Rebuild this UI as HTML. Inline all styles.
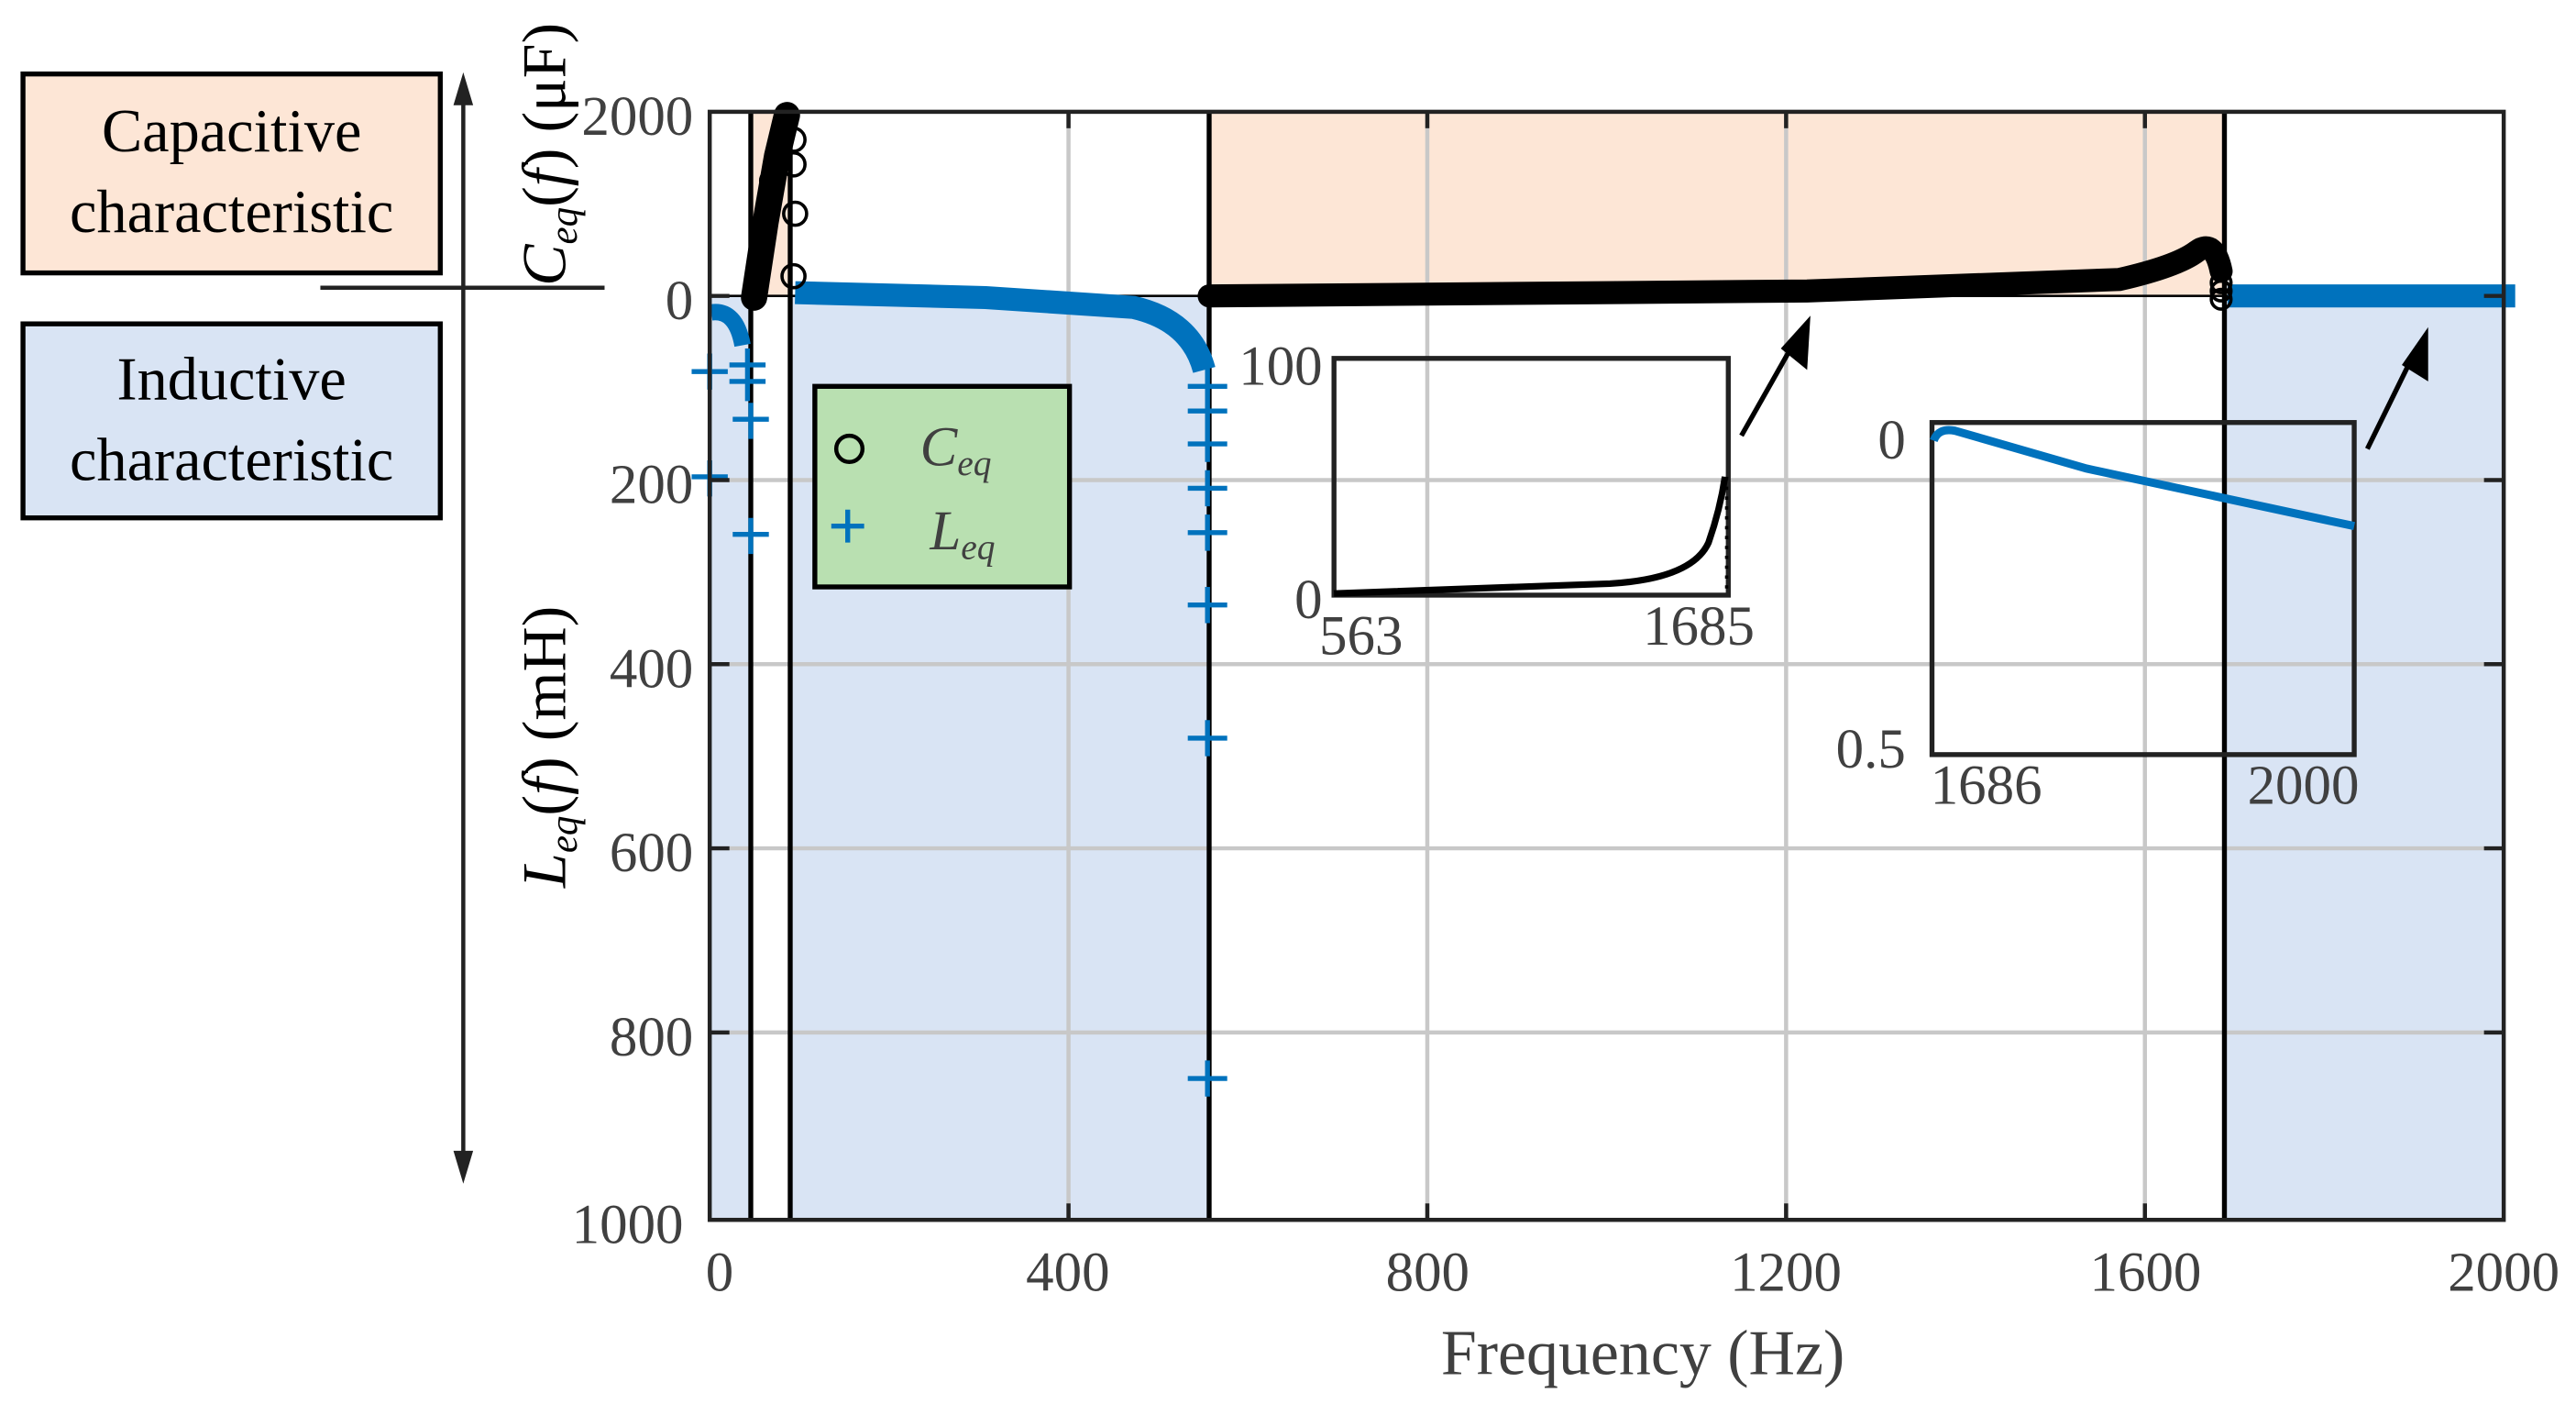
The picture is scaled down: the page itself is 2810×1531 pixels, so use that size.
<!DOCTYPE html>
<html><head><meta charset="utf-8"><style>
html,body{margin:0;padding:0;background:#fff;width:2810px;height:1531px;overflow:hidden}
svg{display:block}
text{font-family:"Liberation Serif",serif}
.t{fill:#404040;font-size:34px}
</style></head><body>
<svg width="2810" height="1531" viewBox="0 0 1568 854" preserveAspectRatio="none">
<!-- shaded regions -->
<rect x="457" y="68" width="24" height="112" fill="#fde6d6"/>
<rect x="736" y="68" width="618" height="112" fill="#fde6d6"/>
<rect x="432" y="180" width="25" height="562" fill="#d9e4f4"/>
<rect x="481" y="180" width="255" height="562" fill="#d9e4f4"/>
<rect x="1354" y="180" width="170" height="562" fill="#d9e4f4"/>
<!-- grid -->
<g stroke="#c8c8c8" stroke-width="2.5">
<line x1="650.4" y1="68" x2="650.4" y2="742"/><line x1="868.8" y1="68" x2="868.8" y2="742"/>
<line x1="1087.2" y1="68" x2="1087.2" y2="742"/><line x1="1305.6" y1="68" x2="1305.6" y2="742"/>
<line x1="432" y1="292" x2="1524" y2="292"/><line x1="432" y1="404" x2="1524" y2="404"/>
<line x1="432" y1="516" x2="1524" y2="516"/><line x1="432" y1="628" x2="1524" y2="628"/>
</g>
<!-- region separators -->
<g stroke="#000" stroke-width="3">
<line x1="457" y1="68" x2="457" y2="742"/><line x1="481" y1="68" x2="481" y2="742"/>
<line x1="736" y1="68" x2="736" y2="742"/><line x1="1354" y1="68" x2="1354" y2="742"/>
<line x1="432" y1="180" x2="1524" y2="180" stroke-width="1.5"/>
</g>
<!-- blue curves -->
<path d="M433,190 Q448,188 452,210" stroke="#0072bd" stroke-width="10" fill="none"/>
<path d="M484,178 L600,181 L690,187 Q725,195 733,225" stroke="#0072bd" stroke-width="14" fill="none"/>
<line x1="1356" y1="180" x2="1531" y2="180" stroke="#0072bd" stroke-width="14"/>
<g stroke="#0072bd" stroke-width="3" fill="none">
<path d="M421,226h22M432,215v22 M421,290h22M432,280v22 M444,222h22M455,212v22 M444,232h22M455,222v22 M446,255h22M457,245v22 M446,325h22M457,315v22 M723,235h24M735,224v22 M723,250h24M735,240v22 M723,270h24M735,259v22 M723,297h24M735,286v22 M723,324h24M735,313v22 M723,368h24M735,357v22 M723,449h24M735,438v22 M723,656h24M735,645v22"/>
</g>
<!-- black curves -->
<path d="M459,181 L466,135 L473,95 L479,70" stroke="#000" stroke-width="16" fill="none" stroke-linecap="round"/>
<g stroke="#000" stroke-width="2" fill="none"><circle cx="483" cy="168" r="7"/><circle cx="484" cy="130" r="7"/><circle cx="483" cy="100" r="7"/><circle cx="483" cy="85" r="7"/><circle cx="470" cy="110" r="7"/><circle cx="474" cy="95" r="7"/></g>
<path d="M736,180 L1100,177 L1290,170 Q1325,162 1337,153 Q1348,145 1352,165" stroke="#000" stroke-width="14" fill="none" stroke-linecap="round"/>
<g stroke="#000" stroke-width="2" fill="none"><circle cx="1352" cy="172" r="6"/><circle cx="1352" cy="177" r="6"/><circle cx="1352" cy="182" r="6"/></g>
<!-- axes box -->
<rect x="432" y="68" width="1092" height="674" fill="none" stroke="#222" stroke-width="2.5"/>
<g stroke="#222" stroke-width="2.5">
<line x1="432" y1="180" x2="444" y2="180"/><line x1="432" y1="292" x2="444" y2="292"/><line x1="432" y1="404" x2="444" y2="404"/><line x1="432" y1="516" x2="444" y2="516"/><line x1="432" y1="628" x2="444" y2="628"/>
<line x1="1512" y1="180" x2="1524" y2="180"/><line x1="1512" y1="292" x2="1524" y2="292"/><line x1="1512" y1="404" x2="1524" y2="404"/><line x1="1512" y1="516" x2="1524" y2="516"/><line x1="1512" y1="628" x2="1524" y2="628"/>
<line x1="650.4" y1="68" x2="650.4" y2="78"/><line x1="868.8" y1="68" x2="868.8" y2="78"/><line x1="1087.2" y1="68" x2="1087.2" y2="78"/><line x1="1305.6" y1="68" x2="1305.6" y2="78"/>
<line x1="650.4" y1="742" x2="650.4" y2="732"/><line x1="868.8" y1="742" x2="868.8" y2="732"/><line x1="1087.2" y1="742" x2="1087.2" y2="732"/><line x1="1305.6" y1="742" x2="1305.6" y2="732"/>
</g>
<!-- tick labels -->
<g class="t" text-anchor="end">
<text x="422" y="82">2000</text><text x="422" y="194">0</text><text x="422" y="306">200</text><text x="422" y="418">400</text><text x="422" y="530">600</text><text x="422" y="642">800</text><text x="416" y="756">1000</text>
</g>
<g class="t" text-anchor="middle">
<text x="438" y="785">0</text><text x="650" y="785">400</text><text x="869" y="785">800</text><text x="1087" y="785">1200</text><text x="1306" y="785">1600</text><text x="1524" y="785">2000</text>
</g>
<text x="1000" y="836" class="t" style="font-size:39px" text-anchor="middle">Frequency (Hz)</text>
<!-- y labels -->
<text transform="translate(344,174) rotate(-90)" style="font-size:38px" fill="#000"><tspan font-style="italic">C</tspan><tspan font-style="italic" font-size="24" dy="7">eq</tspan><tspan dy="-7">(</tspan><tspan font-style="italic">f</tspan><tspan>) (μF)</tspan></text>
<text transform="translate(344,540) rotate(-90)" style="font-size:38px" fill="#000"><tspan font-style="italic">L</tspan><tspan font-style="italic" font-size="24" dy="7">eq</tspan><tspan dy="-7">(</tspan><tspan font-style="italic">f</tspan><tspan>) (mH)</tspan></text>
<!-- legend -->
<rect x="496" y="235" width="155" height="122" fill="#b9e0b1" stroke="#000" stroke-width="3"/>
<circle cx="517" cy="273" r="8" fill="none" stroke="#000" stroke-width="2.5"/>
<path d="M506,320h20M516,310v20" stroke="#0072bd" stroke-width="3"/>
<text x="560" y="283" class="t" font-style="italic">C<tspan font-size="22" dy="6">eq</tspan></text>
<text x="566" y="334" class="t" font-style="italic">L<tspan font-size="22" dy="6">eq</tspan></text>
<!-- inset 1 -->
<rect x="812" y="218" width="240" height="144" fill="none" stroke="#222" stroke-width="3"/>
<path d="M812,361 L980,355 Q1030,352 1040,330 Q1047,310 1050,290" stroke="#000" stroke-width="4" fill="none"/>
<line x1="1051" y1="290" x2="1051" y2="360" stroke="#000" stroke-width="2" stroke-dasharray="2,4"/>
<g class="t"><text x="805" y="234" text-anchor="end">100</text><text x="805" y="376" text-anchor="end">0</text><text x="803" y="398">563</text><text x="1000" y="392">1685</text></g>
<line x1="1060" y1="265" x2="1090" y2="212" stroke="#000" stroke-width="3"/>
<polygon points="1102,192 1100,225 1084,212" fill="#000"/>
<!-- inset 2 -->
<rect x="1176" y="257" width="257" height="202" fill="none" stroke="#222" stroke-width="3"/>
<path d="M1177,268 Q1180,260 1190,262 L1270,285 L1433,320" stroke="#0072bd" stroke-width="5" fill="none"/>
<g class="t"><text x="1160" y="279" text-anchor="end">0</text><text x="1160" y="467" text-anchor="end">0.5</text><text x="1175" y="489">1686</text><text x="1368" y="489">2000</text></g>
<line x1="1441" y1="273" x2="1467" y2="220" stroke="#000" stroke-width="3"/>
<polygon points="1478,199 1478,232 1462,222" fill="#000"/>
<!-- left annotation -->
<rect x="14" y="45" width="254" height="121" fill="#fde6d6" stroke="#000" stroke-width="3"/>
<rect x="14" y="197" width="254" height="118" fill="#d9e4f4" stroke="#000" stroke-width="3"/>
<g style="font-size:37px" fill="#000" text-anchor="middle">
<text x="141" y="92">Capacitive</text><text x="141" y="141">characteristic</text>
<text x="141" y="243">Inductive</text><text x="141" y="292">characteristic</text>
</g>
<line x1="195" y1="175" x2="368" y2="175" stroke="#222" stroke-width="2.5"/>
<line x1="282" y1="58" x2="282" y2="706" stroke="#222" stroke-width="2.5"/>
<polygon points="282,44 276,64 288,64" fill="#222"/>
<polygon points="282,720 276,700 288,700" fill="#222"/>
</svg>
</body></html>
